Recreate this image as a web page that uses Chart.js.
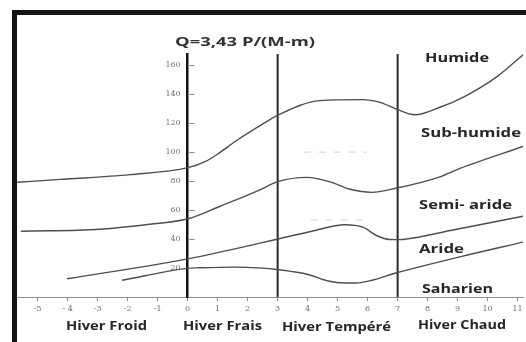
<!DOCTYPE html>
<html>
<head>
<meta charset="utf-8">
<script src="https://cdn.jsdelivr.net/npm/chart.js@4.4.1/dist/chart.umd.min.js"></script>
<style>
  html, body { margin: 0; padding: 0; background: #fff; }
  #wrap { position: relative; width: 526px; height: 342px; overflow: hidden; }
  #wrap canvas { position: absolute; left: 0; top: 0; }
  #frame { position: absolute; left: 12px; top: 10px; right: 0; bottom: 0;
           border-left: 5px solid #141414; border-top: 5px solid #141414; pointer-events: none; }
</style>
</head>
<body>
<div id="wrap">
  <canvas id="chart" width="526" height="342"></canvas>
  <div id="frame"></div>
</div>
<script>
// Emberger climagram: pluviothermic quotient Q against m (°C), with bioclimate limits.
const titleText = 'Q=3,43 P/(M-m)';

const xTickValues = [-5, -4, -3, -2, -1, 0, 1, 2, 3, 4, 5, 6, 7, 8, 9, 10, 11];
const xTickLabels = ['-5', '- 4', '-3', '-2', '-1', '0', '1', '2', '3', '4', '5', '6', '7', '8', '9', '10', '11'];
const yTickValues = [20, 40, 60, 80, 100, 120, 140, 160];

const zoneNames = ['Humide', 'Sub-humide', 'Semi- aride', 'Aride', 'Saharien'];
const winterNames = ['Hiver Froid', 'Hiver Frais', 'Hiver Tempéré', 'Hiver Chaud'];
const winterLimits = [3, 7];

// Humide / Sub-humide limit
const humideM = [-5.69, -4.26, -1.92, 0.01, 0.6, 1.08, 1.68, 2.51, 2.98, 4.41, 5.84, 6.41, 6.94, 7.58, 8.41, 9.18, 10.28, 11.18];
const humideQ = [79.0, 81.0, 84.3, 89.1, 93.4, 99.6, 108.5, 119.3, 125.0, 135.3, 136.0, 134.1, 129.6, 125.5, 130.7, 137.6, 151.3, 166.9];

// Sub-humide / Semi-aride limit
const subHumideM = [-5.56, -2.92, -1.26, 0.01, 1.08, 2.41, 2.98, 3.98, 4.74, 5.41, 6.14, 6.94, 8.41, 9.08, 11.18];
const subHumideQ = [45.3, 46.7, 50.1, 53.9, 62.5, 73.8, 79.3, 82.4, 79.3, 74.2, 72.1, 74.9, 82.8, 88.6, 103.7];

// Semi-aride / Aride limit
const semiAridM = [-4.02, 0.01, 2.41, 2.98, 4.14, 5.24, 5.84, 6.31, 6.74, 6.98, 8.41, 9.14, 11.18];
const semiAridQ = [12.6, 26.3, 37.1, 39.8, 45.3, 49.8, 48.1, 42.2, 39.6, 39.5, 44.3, 47.4, 55.6];

// Aride / Saharien limit
const aridM = [-2.19, -0.02, 0.41, 1.51, 2.48, 2.98, 4.01, 4.68, 5.24, 5.61, 6.18, 6.94, 9.18, 11.18];
const aridQ = [11.5, 19.7, 20.1, 20.6, 19.9, 18.9, 15.5, 11.0, 9.6, 9.6, 11.7, 16.5, 28.2, 37.8];

// Faded dashed guide marks inside the temperate-winter band
const fadedGuideM = [[3.87, 5.97], [4.1, 6.1]];
const fadedGuideQ = [[99.8, 99.8], [52.9, 52.9]];

const X_MIN = -5.69, X_MAX = 11.18, Y_MIN = 0, Y_MAX = 167.4;

const toPoints = (xs, ys) => xs.map((x, i) => ({ x: x, y: ys[i] }));

const curveStyle = {
  borderColor: '#4e4e4e',
  borderWidth: 1.4,
  pointRadius: 0,
  fill: false,
  cubicInterpolationMode: 'monotone'
};

const datasets = [
  Object.assign({ data: toPoints(humideM, humideQ) }, curveStyle),
  Object.assign({ data: toPoints(subHumideM, subHumideQ) }, curveStyle),
  Object.assign({ data: toPoints(semiAridM, semiAridQ) }, curveStyle),
  Object.assign({ data: toPoints(aridM, aridQ) }, curveStyle)
].concat(winterLimits.map(m => ({
  data: [{ x: m, y: Y_MIN }, { x: m, y: Y_MAX }],
  borderColor: '#2a2a2a',
  borderWidth: 2,
  pointRadius: 0,
  fill: false
}))).concat(fadedGuideM.map((ms, i) => ({
  data: toPoints(ms, fadedGuideQ[i]),
  borderColor: '#dadada',
  borderWidth: 1.2,
  borderDash: [7, 8],
  pointRadius: 0,
  fill: false
})));

// Draws text so that it spans a given width (the lettering is set wide).
function fitText(ctx, text, left, baseline, width, font, color) {
  ctx.save();
  ctx.font = font;
  ctx.fillStyle = color;
  ctx.textAlign = 'left';
  ctx.textBaseline = 'alphabetic';
  const w = ctx.measureText(text).width;
  ctx.translate(left, baseline);
  ctx.scale(width / w, 1);
  ctx.fillText(text, 0, 0);
  ctx.restore();
}

const annotations = {
  id: 'annotations',
  afterDraw(chart) {
    const { ctx, scales } = chart;
    const xs = scales.x, ys = scales.y;
    const axisX = xs.getPixelForValue(0);

    // Q axis: tick labels to the left, short dashes to the right of the axis line
    ctx.save();
    ctx.strokeStyle = '#8c8c8c';
    ctx.lineWidth = 1;
    ctx.fillStyle = '#747474';
    ctx.font = '8px "DejaVu Serif", serif';
    ctx.textAlign = 'right';
    ctx.textBaseline = 'middle';
    ys.ticks.forEach(t => {
      const py = ys.getPixelForValue(t.value);
      ctx.fillText(t.label, axisX - 7, py);
      const ly = Math.round(py) + 0.5;
      ctx.beginPath();
      ctx.moveTo(axisX + 1.5, ly);
      ctx.lineTo(axisX + 7, ly);
      ctx.stroke();
    });
    ctx.restore();

    const bold = size => 'bold ' + size + 'px "Open Sans", "Liberation Sans", sans-serif';

    fitText(ctx, titleText, 175, 45.5, 140, bold(12), '#333');

    const zoneLayout = [
      [425, 61.7, 64], [421, 136.5, 100], [419, 209, 93], [419, 252.5, 45], [422, 292.5, 71]
    ];
    zoneNames.forEach((name, i) => {
      const [l, b, w] = zoneLayout[i];
      fitText(ctx, name, l, b, w, bold(13), '#262626');
    });

    const winterLayout = [
      [66, 330, 81], [183, 330, 79], [282, 330.5, 109], [418, 329.3, 88]
    ];
    winterNames.forEach((name, i) => {
      const [l, b, w] = winterLayout[i];
      fitText(ctx, name, l, b, w, bold(13), '#262626');
    });
  }
};

new Chart(document.getElementById('chart'), {
  type: 'line',
  data: { datasets: datasets },
  options: {
    responsive: false,
    animation: false,
    devicePixelRatio: 1,
    layout: { padding: { left: 17, right: 3, top: 54, bottom: 0 } },
    plugins: {
      legend: { display: false },
      tooltip: { enabled: false },
      title: { display: false }
    },
    scales: {
      x: {
        type: 'linear',
        min: X_MIN,
        max: X_MAX,
        position: 'bottom',
        afterBuildTicks: s => { s.ticks = xTickValues.map(v => ({ value: v })); },
        afterFit: s => { s.height = 45; },
        grid: { display: true, drawOnChartArea: false, drawTicks: true, tickLength: 4, color: '#8c8c8c', lineWidth: 1 },
        border: { display: true, color: '#8c8c8c', width: 1 },
        ticks: {
          autoSkip: false,
          maxRotation: 0,
          padding: 3,
          color: '#707070',
          font: { family: '"DejaVu Serif", serif', size: 8 },
          callback: (value) => {
            const i = xTickValues.indexOf(value);
            return i >= 0 ? xTickLabels[i] : '';
          }
        }
      },
      y: {
        type: 'linear',
        min: Y_MIN,
        max: Y_MAX,
        position: { x: 0 },
        afterBuildTicks: s => { s.ticks = yTickValues.map(v => ({ value: v })); },
        grid: { display: false, drawTicks: false },
        border: { display: true, color: '#121212', width: 2.5 },
        ticks: { display: false, autoSkip: false }
      }
    }
  },
  plugins: [annotations]
});
</script>
</body>
</html>
